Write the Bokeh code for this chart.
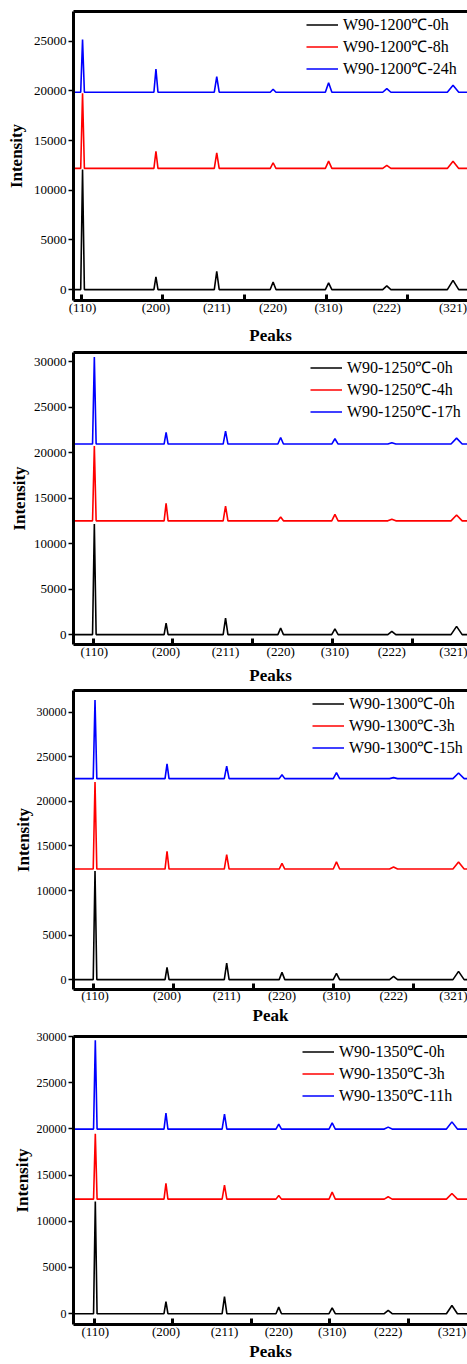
from bokeh.plotting import figure
from bokeh.models import FixedTicker, LinearAxis, Legend, LegendItem, Range1d
from bokeh.layouts import column
from bokeh.embed import file_html
from bokeh.resources import INLINE

FONT = "Liberation Serif"

# ---------------- data ----------------
two_theta = [40.26, 58.27, 73.19, 87.02, 100.64, 114.92, 131.17]
hkl_labels = ["(110)", "(200)", "(211)", "(220)", "(310)", "(222)", "(321)"]
peak_half_width = [0.45, 0.5, 0.6, 0.7, 0.8, 1.0, 1.4]
x_minor_ticks = [40, 60, 80, 100, 120]
y_ticks = [0, 5000, 10000, 15000, 20000, 25000, 30000]
colors = ["black", "red", "blue"]

# Panel 1 (1200 C)
p1_names = ["W90-1200℃-0h", "W90-1200℃-8h", "W90-1200℃-24h"]
p1_base = [0, 12200, 19870]
p1_0h = [12100, 1270, 1830, 770, 670, 370, 930]
p1_8h = [19770, 13930, 13770, 12770, 12930, 12500, 12930]
p1_24h = [25170, 22200, 21430, 20170, 20830, 20230, 20570]

# Panel 2 (1250 C)
p2_names = ["W90-1250℃-0h", "W90-1250℃-4h", "W90-1250℃-17h"]
p2_base = [0, 12500, 20940]
p2_0h = [12140, 1270, 1810, 725, 616, 362, 906]
p2_4h = [20720, 14420, 14130, 12930, 13220, 12680, 13150]
p2_17h = [30500, 22210, 22350, 21660, 21520, 21090, 21590]

# Panel 3 (1300 C)
p3_names = ["W90-1300℃-0h", "W90-1300℃-3h", "W90-1300℃-15h"]
p3_base = [0, 12410, 22560]
p3_0h = [12190, 1370, 1850, 815, 700, 370, 926]
p3_3h = [22190, 14410, 14040, 13040, 13220, 12630, 13190]
p3_15h = [31370, 24220, 23960, 23000, 23220, 22670, 23190]

# Panel 4 (1350 C)
p4_names = ["W90-1350℃-0h", "W90-1350℃-3h", "W90-1350℃-11h"]
p4_base = [0, 12400, 19980]
p4_0h = [12150, 1310, 1840, 710, 640, 354, 885]
p4_3h = [19480, 14100, 13920, 12790, 13150, 12650, 13010]
p4_11h = [29580, 21720, 21610, 20510, 20650, 20190, 20760]

# ---------------- layout (per panel) ----------------
panels = [
    dict(names=p1_names, base=p1_base, series=[p1_0h, p1_8h, p1_24h], xlabel="Peaks",
         xr=(38.04, 134.72), yr=(-1100, 28000), h=347, top=11, bottom=46, left=73,
         tick_fs="13px", ylab_standoff=5, hkl_standoff=-1, xlab_standoff=8, leg=(233, 221)),
    dict(names=p2_names, base=p2_base, series=[p2_0h, p2_4h, p2_17h], xlabel="Peaks",
         xr=(35.03, 133.91), yr=(-1090, 31000), h=340, top=5, bottom=42, left=69,
         tick_fs="13px", ylab_standoff=2, hkl_standoff=-1, xlab_standoff=4, leg=(237, 222)),
    dict(names=p3_names, base=p3_base, series=[p3_0h, p3_3h, p3_15h], xlabel="Peak",
         xr=(34.88, 133.41), yr=(-1110, 32450), h=340, top=3, bottom=37, left=63,
         tick_fs="12px", ylab_standoff=1, hkl_standoff=-2, xlab_standoff=0, leg=(239, 231)),
    dict(names=p4_names, base=p4_base, series=[p4_0h, p4_3h, p4_11h], xlabel="Peaks",
         xr=(34.7, 135.14), yr=(-1170, 30000), h=336, top=9, bottom=37, left=69,
         tick_fs="12px", ylab_standoff=2, hkl_standoff=-1, xlab_standoff=0, leg=(229, 218)),
]

W = 467


def profile(base, apex, x0, x1):
    xs, ys = [x0], [base]
    for pos, hw, a in zip(two_theta, peak_half_width, apex):
        xs += [pos - hw, pos, pos + hw]
        ys += [base, a, base]
    xs.append(x1)
    ys.append(base)
    return xs, ys


figs = []
for cfg in panels:
    p = figure(width=W, height=cfg["h"], output_backend="svg", toolbar_location=None,
               x_range=Range1d(*cfg["xr"]), y_range=Range1d(*cfg["yr"]),
               min_border_left=cfg["left"], min_border_right=0,
               min_border_top=cfg["top"], min_border_bottom=cfg["bottom"])
    p.outline_line_color = None
    p.grid.visible = False

    items = []
    for name, base, apex, col in zip(cfg["names"], cfg["base"], cfg["series"], colors):
        xs, ys = profile(base, apex, cfg["xr"][0] - 5, cfg["xr"][1] + 5)
        r = p.line(xs, ys, line_color=col, line_width=1.6)
        items.append(LegendItem(label=name, renderers=[r]))

    # bottom axis: hkl labels under peaks, inward ticks every 20 deg
    xa = p.xaxis[0]
    xa.ticker = FixedTicker(ticks=two_theta, minor_ticks=x_minor_ticks)
    xa.major_label_overrides = {t: lab for t, lab in zip(two_theta, hkl_labels)}
    xa.major_tick_line_color = None
    xa.major_tick_in = 0
    xa.major_tick_out = 0
    xa.minor_tick_in = 6
    xa.minor_tick_out = 0
    xa.minor_tick_line_width = 3
    xa.minor_tick_line_color = "black"
    xa.axis_line_width = 3
    xa.axis_line_color = "black"
    xa.major_label_text_font = FONT
    xa.major_label_text_font_size = "13px"
    xa.major_label_text_line_height = 1.0
    xa.major_label_text_color = "black"
    xa.major_label_standoff = cfg["hkl_standoff"]
    xa.axis_label = cfg["xlabel"]
    xa.axis_label_text_font = FONT
    xa.axis_label_text_font_style = "bold"
    xa.axis_label_text_font_size = "17px"
    xa.axis_label_text_line_height = 1.0
    xa.axis_label_text_color = "black"
    xa.axis_label_standoff = cfg["xlab_standoff"]

    ya = p.yaxis[0]
    ya.ticker = FixedTicker(ticks=y_ticks)
    ya.major_tick_in = 0
    ya.major_tick_out = 5
    ya.major_tick_line_width = 1.5
    ya.major_tick_line_color = "black"
    ya.minor_tick_line_color = None
    ya.axis_line_width = 3
    ya.axis_line_color = "black"
    ya.major_label_text_font = FONT
    ya.major_label_text_font_size = cfg["tick_fs"]
    ya.major_label_text_color = "black"
    ya.major_label_standoff = 2
    ya.axis_label = "Intensity"
    ya.axis_label_text_font = FONT
    ya.axis_label_text_font_style = "bold"
    ya.axis_label_text_font_size = "17px"
    ya.axis_label_text_color = "black"
    ya.axis_label_standoff = cfg["ylab_standoff"]

    top = LinearAxis(ticker=FixedTicker(ticks=[]), major_tick_in=0, major_tick_out=0,
                     minor_tick_in=0, minor_tick_out=0, major_label_standoff=0,
                     major_label_text_font_size="0px", axis_line_width=3,
                     axis_line_color="black")
    p.add_layout(top, "above")

    leg = Legend(items=items, location=cfg["leg"], background_fill_alpha=0,
                 border_line_color=None, label_text_font=FONT, label_text_font_size="16px",
                 label_text_color="black", label_text_line_height=1.0,
                 glyph_width=32, glyph_height=21, label_height=21, spacing=-1,
                 padding=0, margin=0, label_standoff=5)
    p.add_layout(leg)
    figs.append(p)

layout = column(*figs, spacing=0)
open("out.html", "w").write(file_html(layout, INLINE))
